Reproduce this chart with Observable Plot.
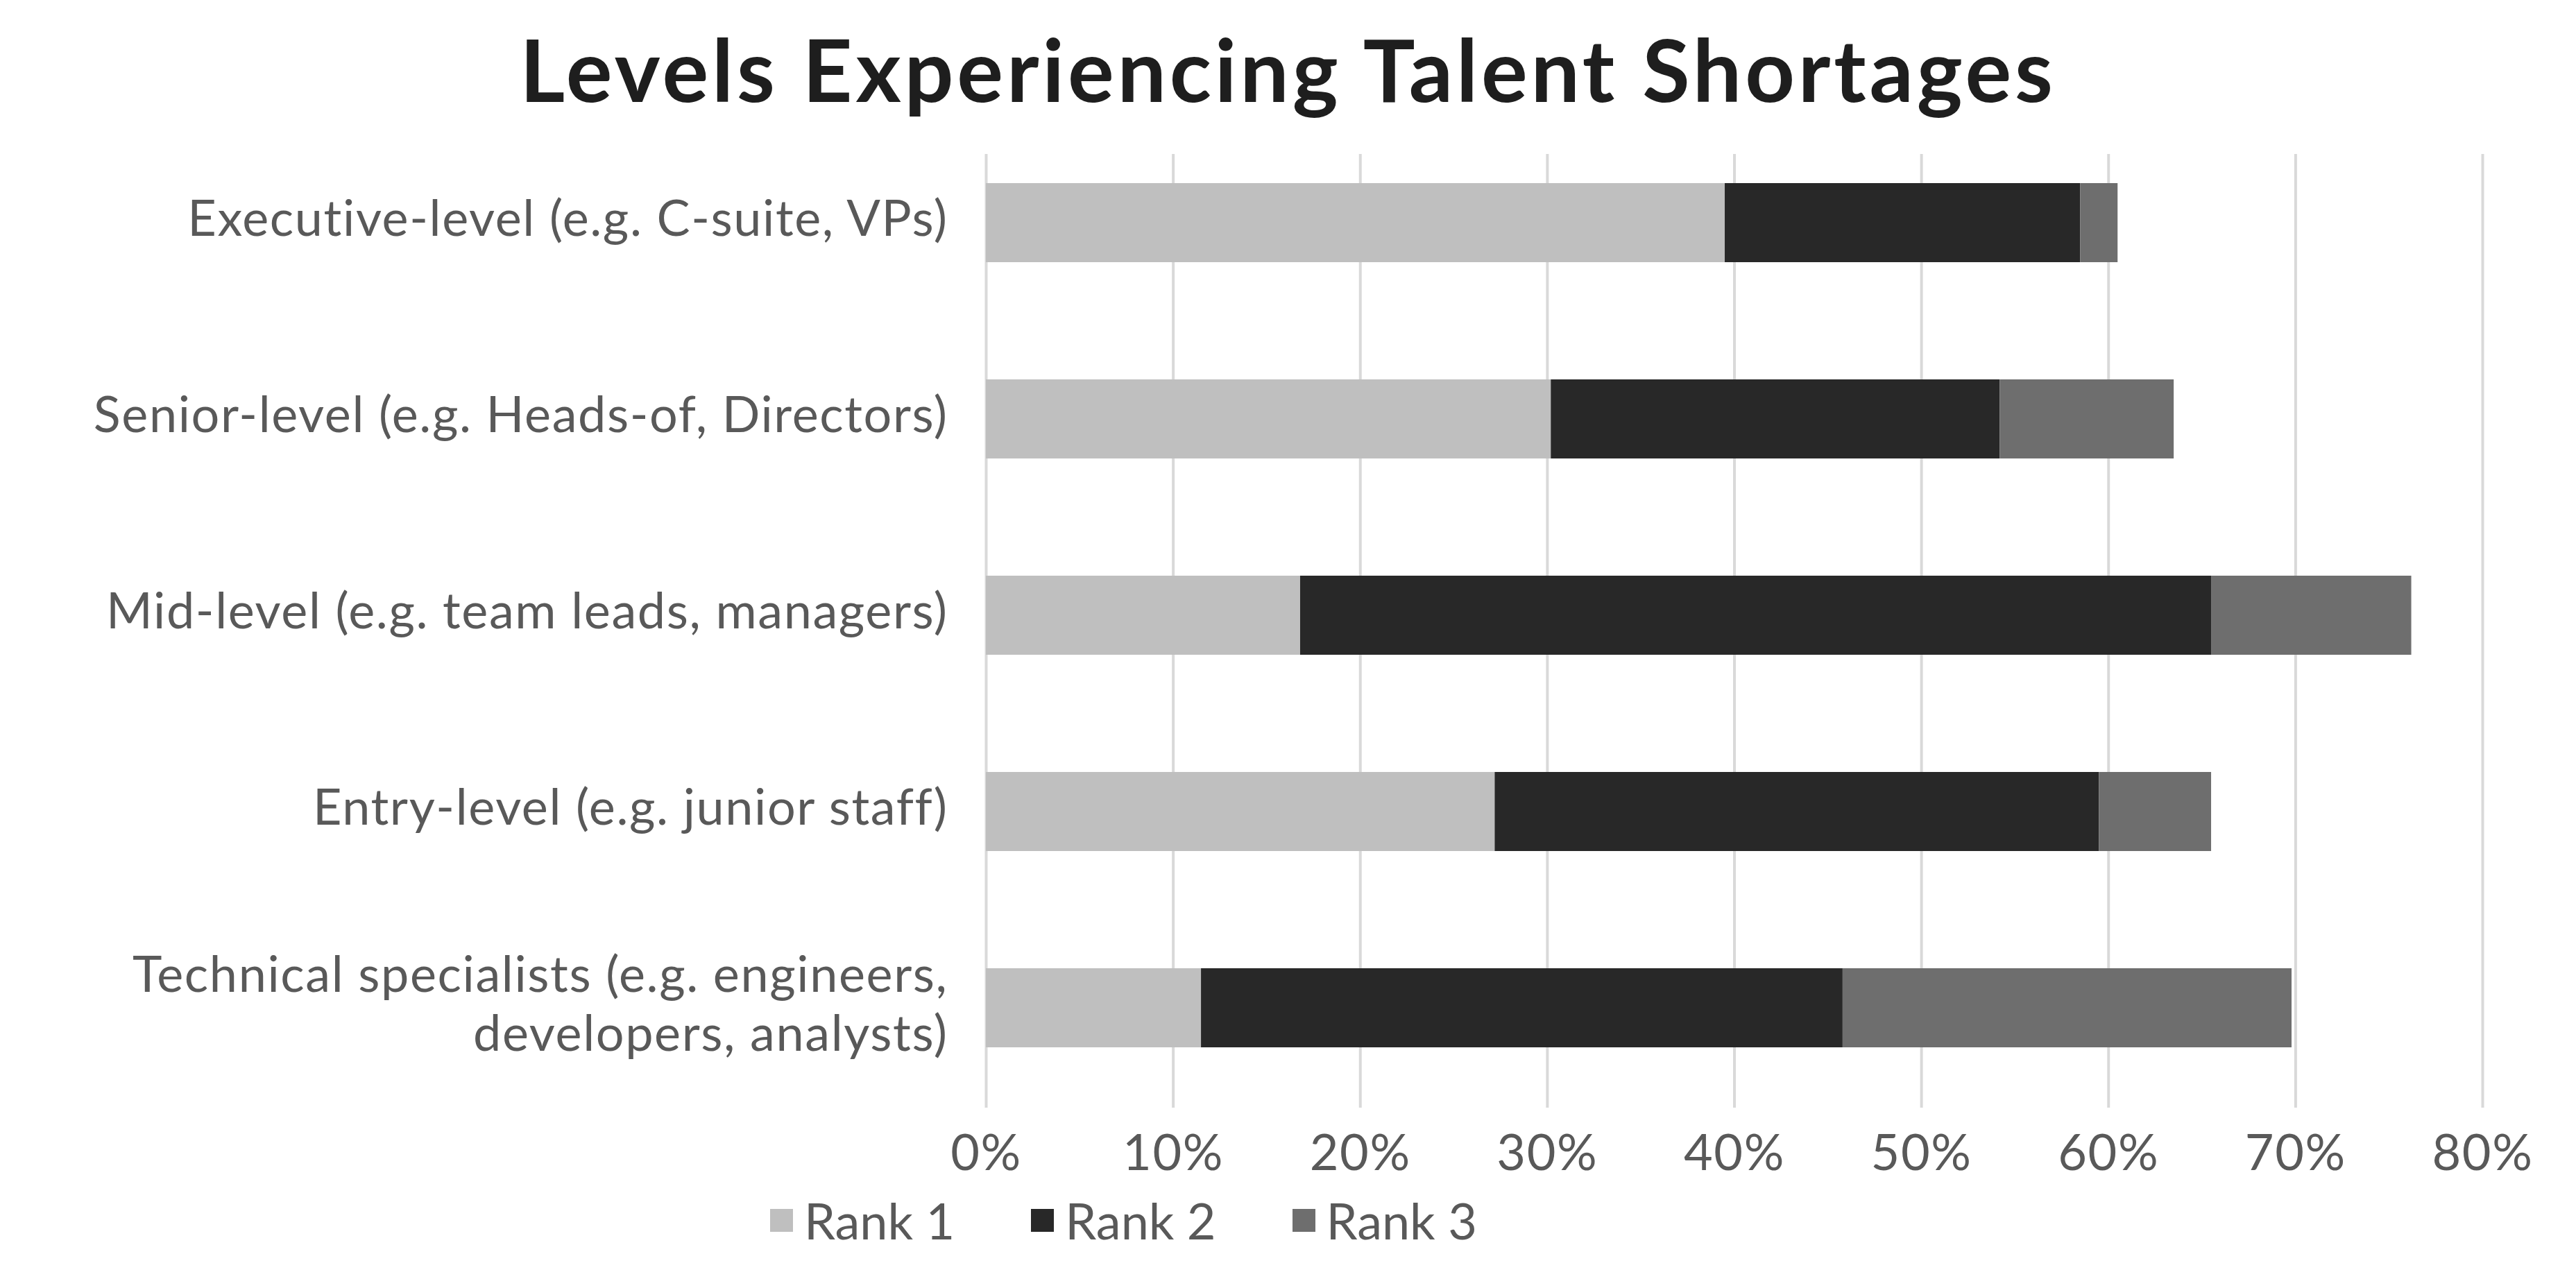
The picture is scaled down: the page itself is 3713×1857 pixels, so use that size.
<!DOCTYPE html>
<html>
<head>
<meta charset="utf-8">
<script src="https://cdn.jsdelivr.net/npm/d3@7"></script>
<script src="https://cdn.jsdelivr.net/npm/@observablehq/plot@0.6"></script>
<style>
  html, body { margin: 0; padding: 0; background: #ffffff; }
  #page { position: relative; width: 3713px; height: 1857px; overflow: hidden; font-family: Lato, "Noto Sans", sans-serif; }
  #title { position: absolute; left: 0; top: 37px; width: 3713px; text-align: center; font-size: 125px; line-height: 125px; font-weight: 700; letter-spacing: 4.8px; color: #1e1e1e; white-space: nowrap; }
  #chart { position: absolute; left: 0; top: 200px; }
  #legend { position: absolute; left: 1110px; top: 1723px; display: flex; align-items: center; gap: 110px; font-size: 72px; line-height: 72px; color: #595959; white-space: nowrap; }
  .item { display: flex; align-items: center; gap: 16px; }
  .sw { width: 33px; height: 33px; display: inline-block; }
</style>
</head>
<body>
<div id="page">
  <div id="title"></div>
  <div id="chart"></div>
  <div id="legend"></div>
</div>
<script>
const chartTitle = "Levels Experiencing Talent Shortages";
const categories = [
  "Executive-level (e.g. C-suite, VPs)",
  "Senior-level (e.g. Heads-of, Directors)",
  "Mid-level (e.g. team leads, managers)",
  "Entry-level (e.g. junior staff)",
  "Technical specialists (e.g. engineers,\ndevelopers, analysts)"
];
const seriesNames = ["Rank 1", "Rank 2", "Rank 3"];
const rank1 = [39.5, 30.2, 16.8, 27.2, 11.5];
const rank2 = [19.0, 24.0, 48.7, 32.3, 34.3];
const rank3 = [2.0, 9.3, 10.7, 6.0, 24.0];
const seriesColors = ["#bfbfbf", "#282828", "#6e6e6e"];
const xTicks = [0, 10, 20, 30, 40, 50, 60, 70, 80];

const seriesValues = [rank1, rank2, rank3];
const rows = [];
categories.forEach((c, i) => {
  seriesNames.forEach((s, j) => {
    rows.push({category: c, series: s, value: seriesValues[j][i]});
  });
});

document.getElementById("title").textContent = chartTitle;

const chart = Plot.plot({
  width: 3713,
  height: 1520,
  marginLeft: 1421,
  marginRight: 135,
  marginTop: 22,
  marginBottom: 123,
  style: {fontFamily: "Lato, 'Noto Sans', sans-serif", background: "transparent", letterSpacing: "1.6px", overflow: "visible"},
  x: {domain: [0, 80]},
  y: {domain: categories, paddingInner: 0.5975, paddingOuter: 0.226, align: 0.328},
  color: {domain: seriesNames, range: seriesColors},
  marks: [
    Plot.ruleX(xTicks, {stroke: "#d9d9d9", strokeWidth: 4, strokeOpacity: 1}),
    Plot.barX(rows, Plot.stackX({y: "category", x: "value", fill: "series", order: seriesNames})),
    Plot.axisX({ticks: xTicks, tickSize: 0, tickPadding: 38, fontSize: 72, fill: "#595959", tickFormat: d => d + "%", label: null}),
    Plot.axisY({tickSize: 0, tickPadding: 55, fontSize: 72, lineHeight: 1.17, fill: "#595959", dy: -8, label: null})
  ]
});
document.getElementById("chart").appendChild(chart);

const legend = document.getElementById("legend");
seriesNames.forEach((s, i) => {
  const item = document.createElement("div");
  item.className = "item";
  const sw = document.createElement("span");
  sw.className = "sw";
  sw.style.background = seriesColors[i];
  const t = document.createElement("span");
  t.textContent = s;
  item.appendChild(sw);
  item.appendChild(t);
  legend.appendChild(item);
});
</script>
</body>
</html>
